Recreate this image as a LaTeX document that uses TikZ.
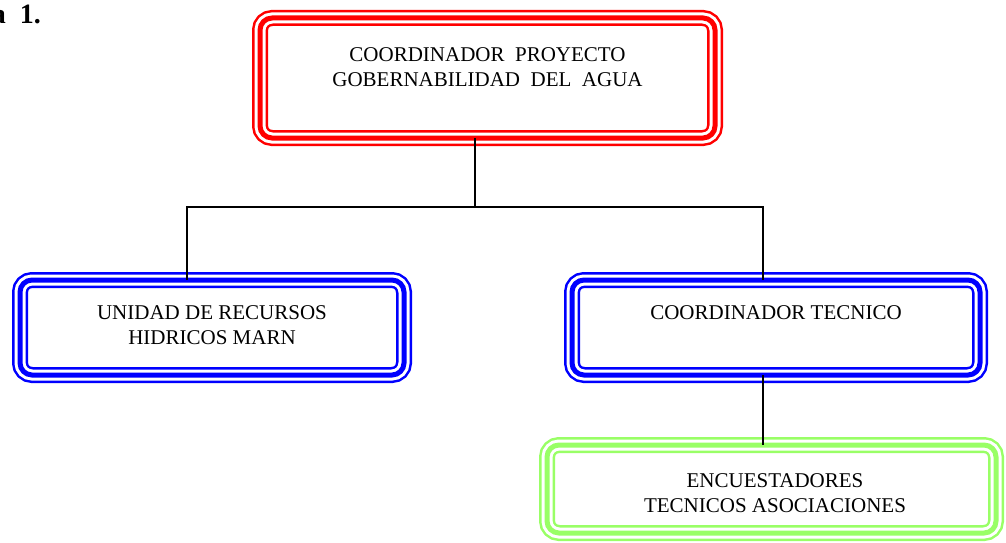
\documentclass[tikz,border=0pt]{standalone}
\usepackage{fontspec}
\setmainfont{Liberation Serif}
\usetikzlibrary{positioning}

\definecolor{boxgreen}{RGB}{153,255,102}

\tikzset{
    frame/.style={draw=white, line width=11pt, rounded corners=12pt,
        inner sep=0pt, outer sep=0pt,
        preaction={draw=#1, line width=16pt},
        postaction={draw=#1, line width=5pt}},
    boxtext/.style={align=center, inner sep=0pt,
        font=\fontsize{21}{25}\selectfont},
    link/.style={draw=black, line width=1.8pt}
}

\begin{document}
\begin{tikzpicture}[x=1pt, y=-1pt]
    \useasboundingbox (0,0) rectangle (1006,543);

    \node[font=\fontsize{28}{32}\selectfont\bfseries, anchor=base east, inner sep=0pt] (title) at (41,24) {a\hspace{14pt}1.};

    \node[frame=red, minimum width=455pt, minimum height=120pt] (coord) at (487.5,78) {};
    \node[frame=blue, minimum width=384pt, minimum height=95pt] (unidad) at (212,327.5) {};
    \node[frame=blue, minimum width=408pt, minimum height=95pt] (tecnico) at (776,327.5) {};
    \node[frame=boxgreen, minimum width=449pt, minimum height=88pt] (encuesta) at (771.5,489) {};

    \node[boxtext, below=29pt of coord.north] (coordtxt) {COORDINADOR\ \ PROYECTO\\GOBERNABILIDAD\ \ DEL\ \ AGUA};
    \node[boxtext, below=25pt of unidad.north] (unidadtxt) {UNIDAD DE RECURSOS\\HIDRICOS MARN};
    \node[boxtext, below=25pt of tecnico.north] (tecnicotxt) {COORDINADOR TECNICO};
    \node[boxtext, below=28pt of encuesta.north, xshift=3.5pt] (encuestatxt) {ENCUESTADORES\\TECNICOS ASOCIACIONES};

    \coordinate (hub) at (475,207);
    \coordinate (jleft) at (187,207);
    \coordinate (jright) at (763,207);

    \draw[link] (coord.south -| hub) -- (hub);
    \draw[link] (unidad.north -| jleft) -- (jleft) -- (jright) -- (tecnico.north -| jright);
    \draw[link] (tecnico.south -| jright) -- (encuesta.north -| jright);
\end{tikzpicture}
\end{document}
